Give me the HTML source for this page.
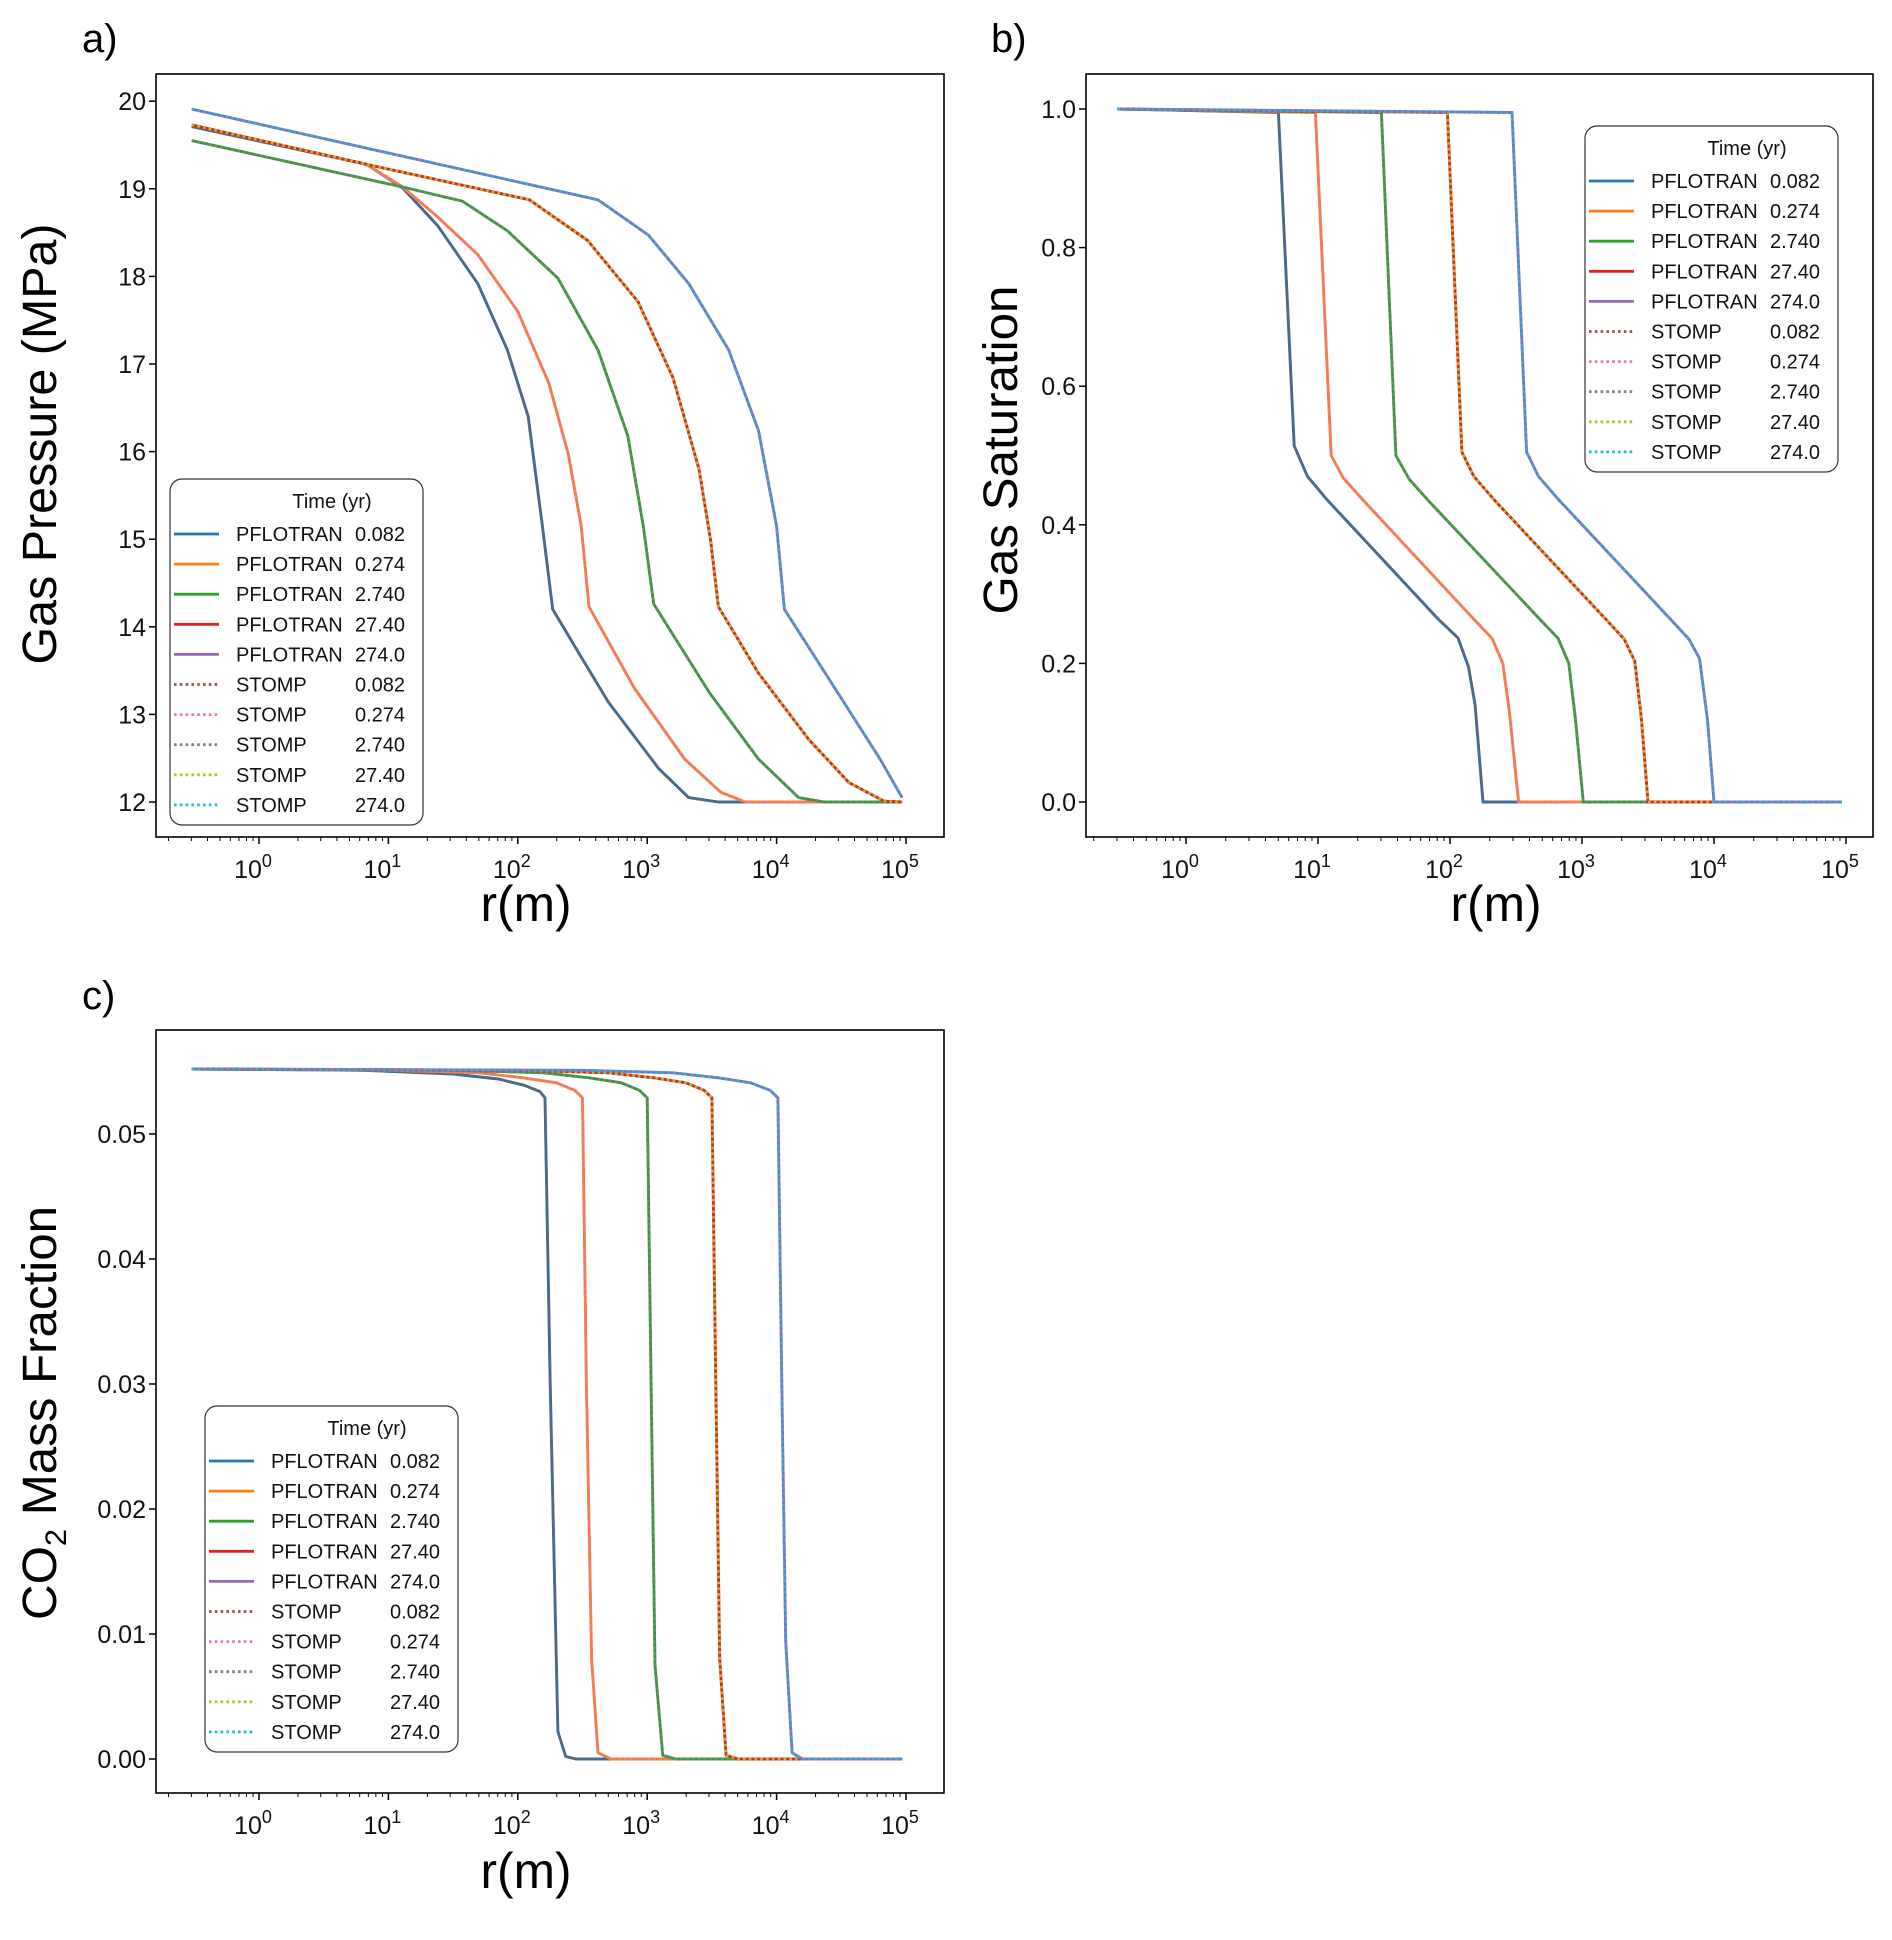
<!DOCTYPE html>
<html><head><meta charset="utf-8">
<style>
html,body{margin:0;padding:0;background:#fff;}
svg{display:block;font-family:"Liberation Sans","DejaVu Sans",sans-serif;}
</style></head>
<body>
<svg id="fig" width="1892" height="1940" viewBox="0 0 1892 1940" xmlns="http://www.w3.org/2000/svg">
<rect x="0" y="0" width="1892" height="1940" fill="#fff"/>
</svg>
<script>
// ---------- DATA (log10 r, value) ----------
const timeLabels = ["0.082","0.274","2.740","27.40","274.0"];
const pflotranColors = ["#1f77b4","#ff7f0e","#2ca02c","#d62728","#9467bd"];
const stompColors = ["#8c564b","#e377c2","#7f7f7f","#bcbd22","#17becf"];
const xTickExps = [0,1,2,3,4,5];

// Panel a: gas pressure (MPa)
const presLogR_t0 = [-0.52,0.83,1.11,1.38,1.69,1.92,2.08,2.19,2.27,2.50,2.70,3.09,3.32,3.55,4.97];
const presVal_t0  = [19.71,19.28,19.01,18.58,17.92,17.16,16.40,15.15,14.20,13.63,13.14,12.38,12.05,12.0,12.0];
const presLogR_t1 = [-0.52,0.83,1.11,1.38,1.69,2.0,2.24,2.39,2.49,2.55,2.90,3.29,3.57,3.76,4.97];
const presVal_t1  = [19.73,19.28,19.02,18.68,18.25,17.6,16.78,15.97,15.15,14.23,13.30,12.49,12.11,12.0,12.0];
const presLogR_t2 = [-0.52,1.11,1.57,1.92,2.31,2.62,2.85,2.97,3.05,3.48,3.86,4.17,4.37,4.97];
const presVal_t2  = [19.55,19.02,18.86,18.52,17.98,17.16,16.18,15.15,14.26,13.25,12.49,12.05,12.0,12.0];
const presLogR_t3 = [-0.52,0.83,2.09,2.54,2.93,3.20,3.40,3.49,3.55,3.86,4.25,4.56,4.83,4.97];
const presVal_t3  = [19.73,19.28,18.875,18.41,17.71,16.84,15.80,14.99,14.23,13.47,12.71,12.22,12.01,12.0];
const presLogR_t4 = [-0.52,2.62,3.01,3.32,3.63,3.86,4.0,4.06,4.45,4.80,4.97];
const presVal_t4  = [19.91,18.875,18.47,17.92,17.16,16.24,15.15,14.20,13.30,12.49,12.05];

// Panel b: gas saturation
const satLogR_t0 = [-0.52,0.70,0.82,0.92,1.07,1.91,2.06,2.14,2.19,2.25,4.97];
const satVal_t0  = [1.0,0.995,0.514,0.47,0.436,0.264,0.237,0.195,0.14,0.0,0.0];
const satLogR_t1 = [-0.52,0.98,1.10,1.19,1.34,2.17,2.32,2.40,2.45,2.52,4.97];
const satVal_t1  = [1.0,0.995,0.50,0.468,0.436,0.266,0.236,0.2,0.13,0.0,0.0];
const satLogR_t2 = [-0.52,1.48,1.59,1.69,1.84,2.67,2.82,2.90,2.95,3.01,4.97];
const satVal_t2  = [1.0,0.995,0.50,0.466,0.434,0.266,0.236,0.2,0.12,0.0,0.0];
const satLogR_t3 = [-0.52,1.98,2.09,2.18,2.33,3.17,3.32,3.40,3.45,3.50,4.97];
const satVal_t3  = [1.0,0.995,0.505,0.47,0.437,0.266,0.235,0.203,0.12,0.0,0.0];
const satLogR_t4 = [-0.52,2.47,2.58,2.67,2.82,3.66,3.81,3.89,3.95,4.00,4.97];
const satVal_t4  = [1.0,0.995,0.505,0.47,0.437,0.266,0.235,0.207,0.12,0.0,0.0];

// Panel c: CO2 mass fraction
const co2LogR_t0 = [-0.52,0.8,1.5,1.85,2.05,2.17,2.21,2.25,2.31,2.37,2.45,4.97];
const co2Val_t0  = [0.0552,0.0551,0.0548,0.0544,0.0539,0.0534,0.0529,0.030,0.0022,0.0002,0.0,0.0];
const co2LogR_t1 = [-0.52,1.0,1.7,2.04,2.3,2.44,2.50,2.53,2.57,2.62,2.72,4.97];
const co2Val_t1  = [0.0552,0.0551,0.0549,0.0545,0.0541,0.0535,0.0529,0.030,0.008,0.0005,0.0,0.0];
const co2LogR_t2 = [-0.52,1.5,2.2,2.55,2.8,2.94,3.0,3.03,3.06,3.12,3.22,4.97];
const co2Val_t2  = [0.0552,0.0551,0.0549,0.0545,0.0541,0.0535,0.0529,0.030,0.0075,0.0003,0.0,0.0];
const co2LogR_t3 = [-0.52,2.0,2.7,3.05,3.3,3.44,3.5,3.53,3.56,3.61,3.7,4.97];
const co2Val_t3  = [0.0552,0.0551,0.0549,0.0545,0.0541,0.0535,0.0529,0.030,0.008,0.0003,0.0,0.0];
const co2LogR_t4 = [-0.52,2.5,3.2,3.55,3.8,3.95,4.01,4.04,4.07,4.12,4.2,4.97];
const co2Val_t4  = [0.0552,0.0551,0.0549,0.0545,0.0541,0.0535,0.0529,0.030,0.0094,0.0005,0.0,0.0];

const presYTicks = [12,13,14,15,16,17,18,19,20];
const presYTickLabels = ["12","13","14","15","16","17","18","19","20"];
const satYTicks = [0,0.2,0.4,0.6,0.8,1.0];
const satYTickLabels = ["0.0","0.2","0.4","0.6","0.8","1.0"];
const co2YTicks = [0,0.01,0.02,0.03,0.04,0.05];
const co2YTickLabels = ["0.00","0.01","0.02","0.03","0.04","0.05"];

// ---------- DRAWING ----------
const NS = "http://www.w3.org/2000/svg";
const svg = document.getElementById("fig");
function mk(tag, attrs, parent){
  const e = document.createElementNS(NS, tag);
  for (const k in attrs) e.setAttribute(k, attrs[k]);
  (parent||svg).appendChild(e);
  return e;
}

function drawPanel(p){
  const g = mk("g", {});
  
  
  const sx = v => p.x0 + (v - 0) * p.dec;
  const sy = v => p.yRef + (v - p.vRef) * p.ySc;
  const cid = p.name + "-clip";
  const defs = mk("defs", {}, g);
  const cp = mk("clipPath", {id: cid}, defs);
  mk("rect", {x:p.L, y:p.T, width:p.R-p.L, height:p.B-p.T}, cp);

  const lines = mk("g", {"clip-path":"url(#"+cid+")"}, g);
  
  
  for (let s = 0; s < 5; s++){
    const xs = p.xs[s], ys = p.ys[s];
    const pts = xs.map((v,i)=> sx(v).toFixed(1)+","+sy(ys[i]).toFixed(1)).join(" ");
    const pl = mk("polyline", {points:pts, fill:"none", stroke:pflotranColors[s], "stroke-width":2.9, "stroke-linejoin":"round"}, lines);
    
    
    const st = mk("polyline", {points:pts, fill:"none", stroke:stompColors[s], "stroke-width":2.6, "stroke-dasharray":"2.6 3.2"}, lines);
    
    
  }
  const fr = mk("rect", {x:p.L, y:p.T, width:p.R-p.L, height:p.B-p.T, fill:"none", stroke:"#000", "stroke-width":1.6}, g);
  
  

  const lo = (p.L - p.x0)/p.dec, hi = (p.R - p.x0)/p.dec;
  for (let d = -1; d <= 5; d++){
    for (let m = 1; m <= 9; m++){
      const lv = d + Math.log10(m);
      if (lv < lo || lv > hi) continue;
      const X = sx(lv);
      mk("line", {x1:X, x2:X, y1:p.B, y2:p.B + (m===1?7:4), stroke:"#000", "stroke-width":m===1?1.5:1}, g);
    }
  }
  xTickExps.forEach(e=>{
    const t = mk("text", {x:sx(e)-6, y:p.B+41, "font-size":25, "text-anchor":"middle", fill:"#111"}, g);
    
    
    t.appendChild(document.createTextNode("10"));
    const sup = mk("tspan", {dy:-11, "font-size":18}, t);
    sup.textContent = String(e);
  });
  p.yTicks.forEach((v,i)=>{
    const Y = sy(v);
    mk("line", {x1:p.L-7, x2:p.L, y1:Y, y2:Y, stroke:"#000", "stroke-width":1.5}, g);
    const t = mk("text", {x:p.L-10, y:Y+9, "font-size":25, "text-anchor":"end", fill:"#111"}, g);
    
    
    t.textContent = p.yTickLabels[i];
  });
  const xl = mk("text", {x:p.xlX, y:p.xlY, "font-size":50, "text-anchor":"middle", fill:"#000", textLength:91, lengthAdjust:"spacingAndGlyphs"}, g);
  
  
  xl.textContent = "r(m)";
  const yl = mk("text", {x:0, y:0, "font-size":48, "text-anchor":"middle", fill:"#000", transform:"translate("+p.ylX+","+p.ylY+") rotate(-90)"}, g);
  
  
  if (p.co2){
    yl.appendChild(document.createTextNode("CO"));
    const sb = mk("tspan", {dy:10, "font-size":30}, yl); sb.textContent = "2";
    const rest = mk("tspan", {dy:-10}, yl); rest.textContent = " Mass Fraction";
  } else {
    yl.textContent = p.ylabel;
  }
  yl.setAttribute("textLength", p.ylLen);
  yl.setAttribute("lengthAdjust", "spacingAndGlyphs");
  const pl = mk("text", {x:p.letX, y:p.letY, "font-size":40, fill:"#000"}, g);
  
  
  pl.textContent = p.letter;

  const lg = mk("g", {}, g);
  
  
  const bx = p.legX, by = p.legY;
  mk("rect", {x:bx, y:by, width:253, height:346, rx:12, fill:"#fff", "fill-opacity":0.85, stroke:"#333", "stroke-width":1.2}, lg);
  const tt = mk("text", {x:bx+162, y:by+29, "font-size":20, "text-anchor":"middle", fill:"#111"}, lg);
  
  
  tt.textContent = "Time (yr)";
  for (let k = 0; k < 10; k++){
    const Y = by + 55 + k*30.1;
    const s = k % 5, stomp = k >= 5;
    const ent = mk("g", {}, lg);
    
    
    mk("line", {x1:bx+4, x2:bx+49, y1:Y, y2:Y, stroke: stomp?stompColors[s]:pflotranColors[s], "stroke-width":2.8, "stroke-dasharray": stomp?"2.6 3.2":"none"}, ent);
    const a = mk("text", {x:bx+66, y:Y+7, "font-size":20, fill:"#111"}, ent);
    a.textContent = stomp ? "STOMP" : "PFLOTRAN";
    const b = mk("text", {x:bx+185, y:Y+7, "font-size":20, fill:"#111"}, ent);
    b.textContent = timeLabels[s];
  }
}

drawPanel({name:"panel-a-gas-pressure", letter:"a)", letX:82, letY:52,
  L:156, T:74, R:944, B:837, x0:259, dec:129.4, yRef:802, vRef:12, ySc:-87.6,
  xs:[presLogR_t0,presLogR_t1,presLogR_t2,presLogR_t3,presLogR_t4],
  ys:[presVal_t0,presVal_t1,presVal_t2,presVal_t3,presVal_t4],
  yTicks:presYTicks, yTickLabels:presYTickLabels,
  xlX:526, xlY:921, ylX:56, ylY:444, ylabel:"Gas Pressure (MPa)", ylLen:441,
  legX:170, legY:479});

drawPanel({name:"panel-b-gas-saturation", letter:"b)", letX:991, letY:52,
  L:1086, T:74, R:1873, B:837, x0:1186, dec:132, yRef:802, vRef:0, ySc:-693,
  xs:[satLogR_t0,satLogR_t1,satLogR_t2,satLogR_t3,satLogR_t4],
  ys:[satVal_t0,satVal_t1,satVal_t2,satVal_t3,satVal_t4],
  yTicks:satYTicks, yTickLabels:satYTickLabels,
  xlX:1496, xlY:921, ylX:1017, ylY:450, ylabel:"Gas Saturation", ylLen:329,
  legX:1585, legY:126});

drawPanel({name:"panel-c-co2-mass-fraction", letter:"c)", letX:82, letY:1009,
  L:156, T:1030, R:944, B:1793, x0:259, dec:129.4, yRef:1759, vRef:0, ySc:-12500,
  xs:[co2LogR_t0,co2LogR_t1,co2LogR_t2,co2LogR_t3,co2LogR_t4],
  ys:[co2Val_t0,co2Val_t1,co2Val_t2,co2Val_t3,co2Val_t4],
  yTicks:co2YTicks, yTickLabels:co2YTickLabels,
  xlX:526, xlY:1888, ylX:56, ylY:1413, co2:true, ylLen:414,
  legX:205, legY:1406});
</script>
</body></html>
